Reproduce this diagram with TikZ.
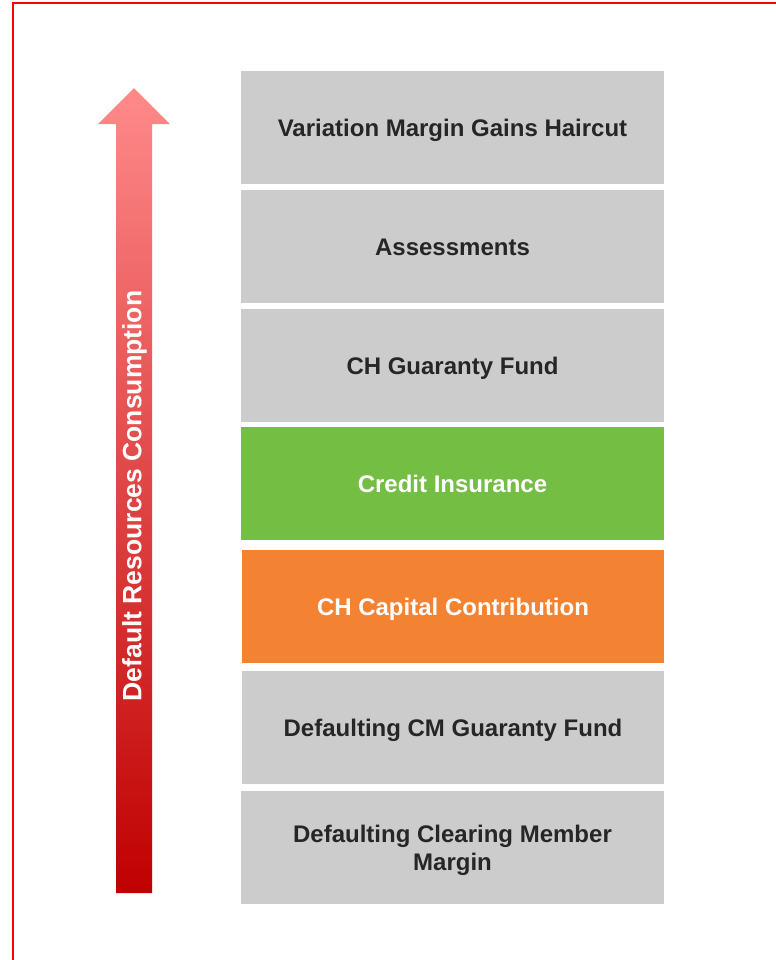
\documentclass[tikz,border=0pt]{standalone}
\usepackage{fontspec}
\setmainfont{Liberation Sans}
\definecolor{boxgray}{HTML}{CCCCCC}
\definecolor{boxgreen}{HTML}{75BE44}
\definecolor{boxorange}{HTML}{F38332}
\definecolor{txtdark}{HTML}{262626}
\definecolor{arrowtop}{HTML}{FF8A8A}
\definecolor{arrowbot}{HTML}{C00000}
\definecolor{framered}{HTML}{FF0000}
\begin{document}
\begin{tikzpicture}[x=1bp,y=-1bp,
  layer/.style={rectangle, inner sep=0pt, minimum width=423bp, minimum height=113bp,
    font=\fontsize{24bp}{28bp}\selectfont\bfseries, align=center, text=txtdark, fill=boxgray,
    text depth=0pt},
  onelinelayer/.style={layer, text height=17.2bp},
  lightlayer/.style={onelinelayer, text=white}]
\useasboundingbox (0,0) rectangle (776,960);
\fill[white] (0,0) rectangle (776,960);
\begin{scope}
\clip (0,0) rectangle (776,960);
\draw[framered, line width=2bp] (800,3) -- (12.5,3) -- (12.5,1000);
\end{scope}
% arrow
\shade[top color=arrowtop, bottom color=arrowbot]
  (134,88) -- (170,124) -- (152,124) -- (152,893) -- (116,893) -- (116,124) -- (98,124) -- cycle;
\node[rotate=90, text=white, font=\fontsize{26.5bp}{30bp}\selectfont\bfseries, inner sep=0pt]
  (label) at (134.5,496) {Default Resources Consumption};
% layers
\node[onelinelayer] (vmgh) at (452.5,127.5) {Variation Margin Gains Haircut};
\node[onelinelayer] (assess) at (452.5,246.5) {Assessments};
\node[onelinelayer] (chgf) at (452.5,365.5) {CH Guaranty Fund};
\node[lightlayer, fill=boxgreen] (credit) at (452.5,483.5) {Credit Insurance};
\node[lightlayer, fill=boxorange, minimum width=422bp] (capital) at (453,606.5) {CH Capital Contribution};
\node[onelinelayer, minimum width=422bp] (dcmgf) at (453,727.5) {Defaulting CM Guaranty Fund};
\node[layer] (dcmm) at (452.5,847.5) {Defaulting Clearing Member\\Margin};
\end{tikzpicture}
\end{document}
